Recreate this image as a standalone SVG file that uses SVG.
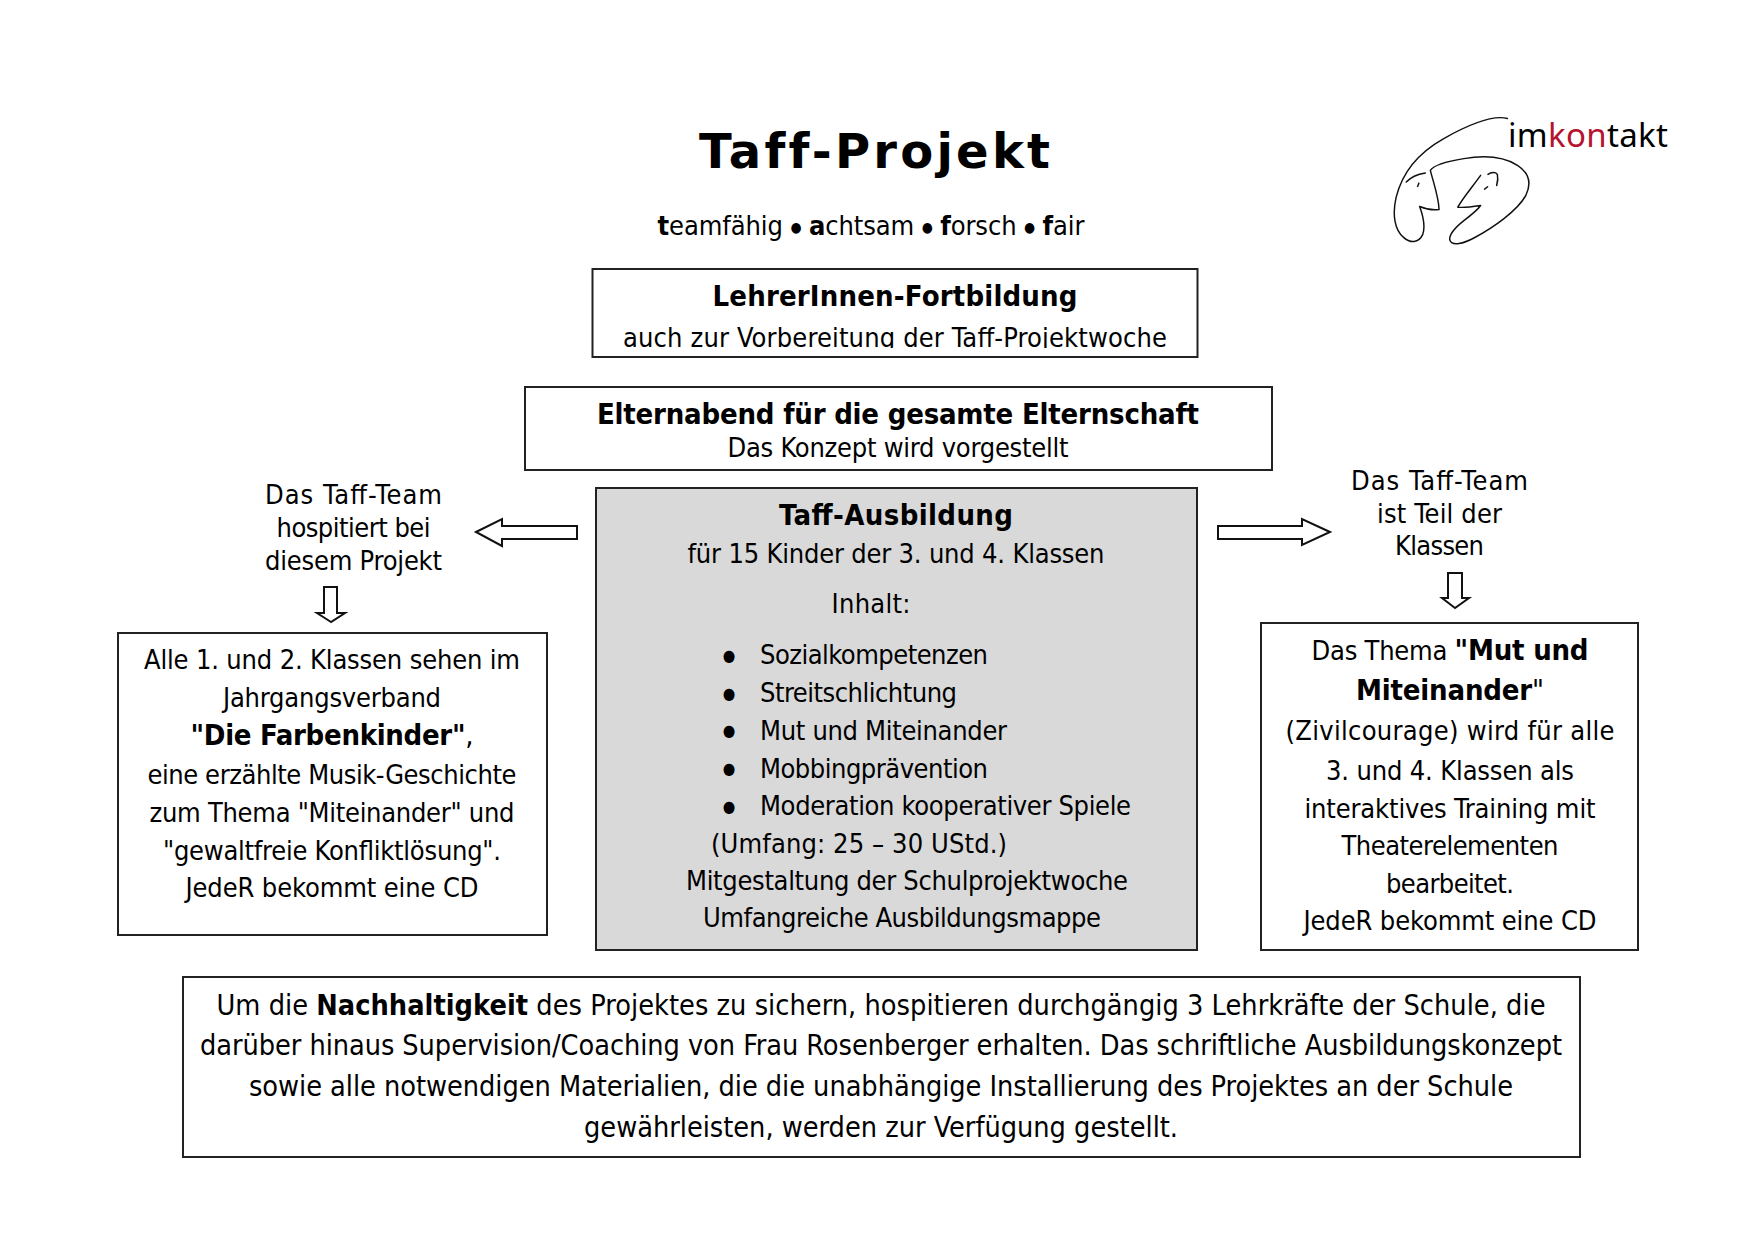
<svg xmlns="http://www.w3.org/2000/svg" width="1754" height="1240" viewBox="0 0 1754 1240">
<style>
text{font-family:"DejaVu Sans Condensed","DejaVu Sans",sans-serif;font-stretch:condensed;font-size:27px;fill:#000;text-anchor:middle}
.s{text-anchor:start}
.b,tspan.b{font-weight:700}
.h{font-size:29px}
.n{font-size:28.6px}
.dot{font-size:16px}
.box{fill:#fff;stroke:#222;stroke-width:2}
.arrow{fill:#fff;stroke:#111;stroke-width:2;stroke-linejoin:miter}
.logo{fill:none;stroke:#111;stroke-width:4.4;stroke-linecap:round;stroke-linejoin:round}
</style>
<defs><clipPath id="clipL"><rect x="592" y="270" width="605" height="78"/></clipPath></defs>
<rect width="1754" height="1240" fill="#fff"/>
<g id="title">
<text x="876" y="168" textLength="354" style="font-family:'DejaVu Sans',sans-serif;font-stretch:normal;font-weight:700;font-size:48px;letter-spacing:3px">Taff-Projekt</text>
<text x="871" y="235" textLength="427"><tspan class="b">t</tspan>eamfähig <tspan font-size="14" dy="-3">●</tspan><tspan dy="3"> </tspan><tspan class="b">a</tspan>chtsam <tspan font-size="14" dy="-3">●</tspan><tspan dy="3"> </tspan><tspan class="b">f</tspan>orsch <tspan font-size="14" dy="-3">●</tspan><tspan dy="3"> </tspan><tspan class="b">f</tspan>air</text>
</g>
<g id="logo">
<g transform="translate(1360,100) scale(.335)">
<path class="logo" d="M440 55C400 45 330 70 250 115C170 160 125 220 108 290C95 345 105 390 130 410C150 428 175 428 187 402C195 380 188 345 178 318C195 325 215 330 236 327C235 290 220 250 210 210C220 195 260 183 310 175C370 165 430 170 470 195C505 218 512 250 495 285C470 330 400 380 340 412C310 428 275 438 268 418C265 400 285 380 310 360C330 345 350 330 360 315C340 318 310 322 292 320C305 295 335 260 360 225"/>
<path class="logo" d="M138 245C150 232 170 222 195 218"/>
<path class="logo" d="M172 258L176 248"/>
<path class="logo" d="M382 222C392 215 405 215 410 222C413 235 410 248 408 255"/>
<path class="logo" d="M372 266L381 259"/>
</g>
<text class="s" x="1508" y="147" textLength="160" style="font-family:'Noto Sans',sans-serif;font-stretch:normal;font-size:33px">im<tspan style="fill:#b5122f">kon</tspan>takt</text>
</g>
<g id="lehrer">
<rect class="box" x="592.5" y="269" width="605" height="88"/>
<g clip-path="url(#clipL)">
<text class="b h" x="895" y="306" textLength="365">LehrerInnen-Fortbildung</text>
<text x="895" y="347" textLength="544">auch zur Vorbereitung der Taff-Projektwoche</text>
</g>
</g>
<g id="eltern">
<rect class="box" x="525" y="387" width="747" height="83"/>
<text class="b h" x="898" y="424" textLength="602">Elternabend für die gesamte Elternschaft</text>
<text x="898" y="457" textLength="341">Das Konzept wird vorgestellt</text>
</g>
<g id="ausbildung">
<rect x="596" y="488" width="601" height="462" fill="#d9d9d9" stroke="#222" stroke-width="2"/>
<text class="b h" x="896" y="525" textLength="234">Taff-Ausbildung</text>
<text x="896" y="563" textLength="417">für 15 Kinder der 3. und 4. Klassen</text>
<text x="871" y="613" textLength="79">Inhalt:</text>
<text class="dot" x="729" y="661">●</text><text class="s" x="760" y="664" textLength="228">Sozialkompetenzen</text>
<text class="dot" x="729" y="699">●</text><text class="s" x="760" y="702" textLength="197">Streitschlichtung</text>
<text class="dot" x="729" y="736">●</text><text class="s" x="760" y="740" textLength="247">Mut und Miteinander</text>
<text class="dot" x="729" y="774">●</text><text class="s" x="760" y="778" textLength="228">Mobbingprävention</text>
<text class="dot" x="729" y="812">●</text><text class="s" x="760" y="815" textLength="371">Moderation kooperativer Spiele</text>
<text class="s" x="711" y="853" textLength="296">(Umfang: 25 – 30 UStd.)</text>
<text x="907" y="890" textLength="442">Mitgestaltung der Schulprojektwoche</text>
<text x="902" y="927" textLength="398">Umfangreiche Ausbildungsmappe</text>
</g>
<g id="team-links">
<text x="353.5" y="504" textLength="177">Das Taff-Team</text>
<text x="353.5" y="537" textLength="154">hospitiert bei</text>
<text x="353.5" y="570" textLength="177">diesem Projekt</text>
</g>
<g id="team-rechts">
<text x="1439.5" y="490" textLength="177">Das Taff-Team</text>
<text x="1439.5" y="523" textLength="125">ist Teil der</text>
<text x="1439.5" y="555" textLength="89">Klassen</text>
</g>
<g id="farbenkinder">
<rect class="box" x="118" y="633" width="429" height="302"/>
<text x="332" y="669" textLength="376">Alle 1. und 2. Klassen sehen im</text>
<text x="332" y="707" textLength="218">Jahrgangsverband</text>
<text x="332" y="745" textLength="283" style="font-size:29px"><tspan class="b">"Die Farbenkinder"</tspan>,</text>
<text x="332" y="784" textLength="369">eine erzählte Musik-Geschichte</text>
<text x="332" y="822" textLength="365">zum Thema "Miteinander" und</text>
<text x="332" y="860" textLength="338">"gewaltfreie Konfliktlösung".</text>
<text x="332" y="897" textLength="293">JedeR bekommt eine CD</text>
</g>
<g id="mut">
<rect class="box" x="1261" y="623" width="377" height="327"/>
<text x="1450" y="660" textLength="277">Das Thema <tspan class="b h">"Mut und</tspan></text>
<text class="b h" x="1450" y="700" textLength="188">Miteinander<tspan style="font-weight:400">"</tspan></text>
<text x="1450" y="740" textLength="329">(Zivilcourage) wird für alle</text>
<text x="1450" y="780" textLength="248">3. und 4. Klassen als</text>
<text x="1450" y="818" textLength="291">interaktives Training mit</text>
<text x="1450" y="855" textLength="217">Theaterelementen</text>
<text x="1450" y="893" textLength="128">bearbeitet.</text>
<text x="1450" y="930" textLength="293">JedeR bekommt eine CD</text>
</g>
<g id="nachhaltigkeit">
<rect class="box" x="183" y="977" width="1397" height="180"/>
<text class="n" x="881" y="1015" textLength="1329">Um die <tspan class="b">Nachhaltigkeit</tspan> des Projektes zu sichern, hospitieren durchgängig 3 Lehrkräfte der Schule, die</text>
<text class="n" x="881" y="1055" textLength="1362">darüber hinaus Supervision/Coaching von Frau Rosenberger erhalten. Das schriftliche Ausbildungskonzept</text>
<text class="n" x="881" y="1096" textLength="1264">sowie alle notwendigen Materialien, die die unabhängige Installierung des Projektes an der Schule</text>
<text class="n" x="881" y="1137" textLength="594">gewährleisten, werden zur Verfügung gestellt.</text>
</g>
<g id="connectors">
<polygon class="arrow" points="476,532 502,519 502,526 577,526 577,539 502,539 502,546"/>
<polygon class="arrow" points="1330,532 1302,519 1302,526 1218,526 1218,539 1302,539 1302,545"/>
<polygon class="arrow" points="331,622 317,613 324,613 324,587 337,587 337,613 345,613"/>
<polygon class="arrow" points="1455,608 1442,598 1448,598 1448,573 1462,573 1462,598 1469,598"/>
</g>
</svg>
